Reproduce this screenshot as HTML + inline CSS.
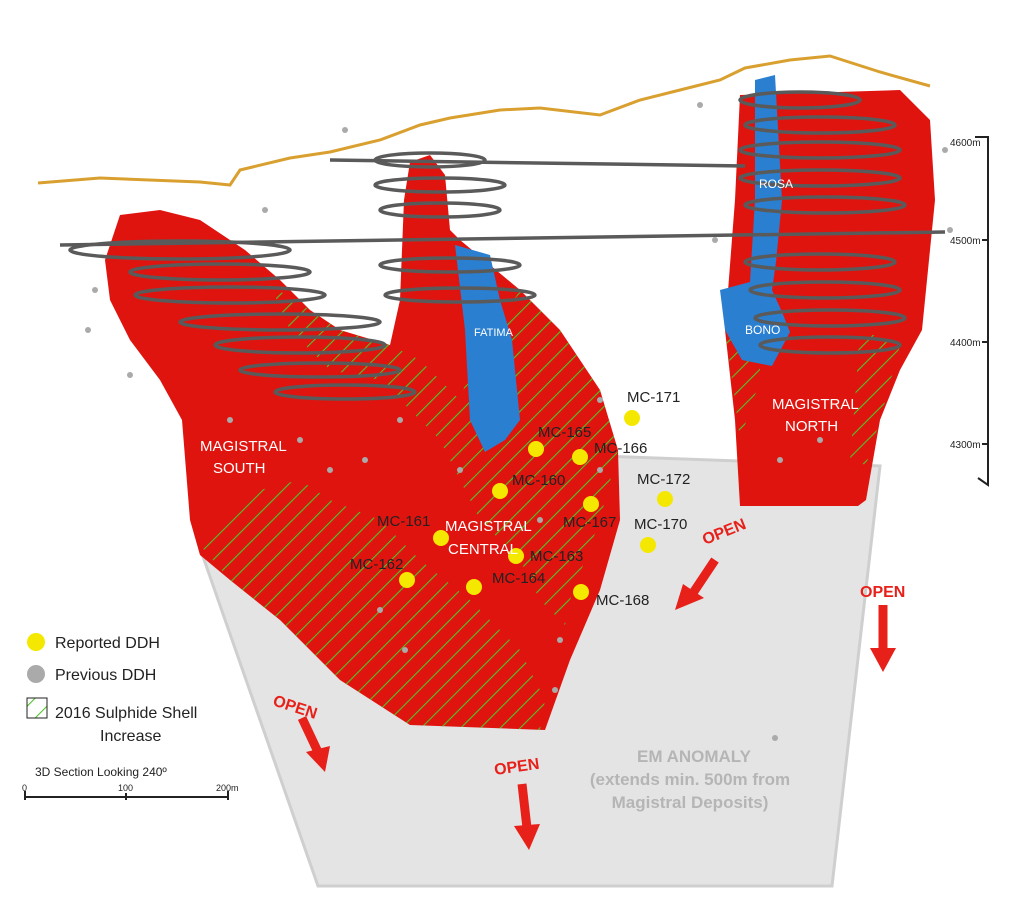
<!DOCTYPE html>
<html><head><meta charset="utf-8">
<style>
html,body{margin:0;padding:0;background:#fff;}
svg{display:block;font-family:"Liberation Sans",sans-serif;}
</style></head>
<body>
<svg width="1024" height="907" viewBox="0 0 1024 907" xmlns="http://www.w3.org/2000/svg">
<defs>
<pattern id="hatch" patternUnits="userSpaceOnUse" width="14" height="14" patternTransform="rotate(45)">
<line x1="0" y1="0" x2="0" y2="14" stroke="#4fc42a" stroke-width="2.2"/>
</pattern>
</defs>
<rect width="1024" height="907" fill="#fff"/>
<polygon points="200,548 600,456 880,466 832,886 318,886" fill="#e4e4e4" stroke="#cfcfcf" stroke-width="3"/>
<polyline points="38,183 100,178 200,182 230,185 240,170 290,158 330,152 380,140 420,125 450,118 500,110 540,108 600,115 640,100 680,90 720,80 745,68 790,60 830,56 880,72 930,86" fill="none" stroke="#d9a030" stroke-width="3"/>
<polygon points="120,215 160,210 200,220 245,250 280,280 310,310 340,330 390,345 400,300 404,200 410,162 430,155 445,175 450,230 460,240 520,290 560,330 600,390 618,450 620,520 600,590 570,660 545,730 410,725 340,680 280,620 230,580 200,555 190,520 182,420 160,380 130,340 110,300 105,260" fill="#e0140f"/>
<polygon points="740,95 900,90 930,120 935,200 922,330 900,370 880,420 866,500 858,506 740,506 735,420 725,330 735,200" fill="#e0140f"/>
<g fill="url(#hatch)">
<polygon points="270,285 310,310 340,330 390,345 420,360 460,400 470,370 520,290 560,330 600,390 618,450 600,520 570,600 565,625 540,600 520,560 480,520 440,440 380,380 330,370 290,330"/>
<polygon points="200,545 230,510 260,490 300,480 330,500 380,520 420,560 470,600 520,650 545,700 540,730 410,725 340,680 280,620 230,580"/>
<polygon points="730,300 760,330 760,380 740,440 735,400 725,330"/>
<polygon points="860,330 900,345 880,420 866,465 850,460 855,400"/>
</g>
<polygon points="455,245 490,255 500,300 512,340 520,420 505,440 485,452 470,420 465,330" fill="#2a7fd0"/>
<polygon points="755,80 775,75 782,200 776,262 772,290 782,312 790,332 772,366 742,360 725,330 720,290 750,282 755,200" fill="#2a7fd0"/>
<g fill="none" stroke="#5a5a5a" stroke-width="3.5">
<line x1="330" y1="160" x2="745" y2="166"/>
<line x1="60" y1="245" x2="945" y2="232"/>
<ellipse cx="180" cy="250" rx="110" ry="9"/>
<ellipse cx="220" cy="272" rx="90" ry="8"/>
<ellipse cx="230" cy="295" rx="95" ry="8"/>
<ellipse cx="280" cy="322" rx="100" ry="8"/>
<ellipse cx="300" cy="345" rx="85" ry="8"/>
<ellipse cx="320" cy="370" rx="80" ry="7"/>
<ellipse cx="345" cy="392" rx="70" ry="7"/>
<ellipse cx="430" cy="160" rx="55" ry="7"/>
<ellipse cx="440" cy="185" rx="65" ry="7"/>
<ellipse cx="440" cy="210" rx="60" ry="7"/>
<ellipse cx="450" cy="265" rx="70" ry="7"/>
<ellipse cx="460" cy="295" rx="75" ry="7"/>
<ellipse cx="800" cy="100" rx="60" ry="8"/>
<ellipse cx="820" cy="125" rx="75" ry="8"/>
<ellipse cx="820" cy="150" rx="80" ry="8"/>
<ellipse cx="820" cy="178" rx="80" ry="8"/>
<ellipse cx="825" cy="205" rx="80" ry="8"/>
<ellipse cx="820" cy="262" rx="75" ry="8"/>
<ellipse cx="825" cy="290" rx="75" ry="8"/>
<ellipse cx="830" cy="318" rx="75" ry="8"/>
<ellipse cx="830" cy="345" rx="70" ry="8"/>
</g>
<g fill="#aaa">
<circle cx="95" cy="290" r="3"/><circle cx="130" cy="375" r="3"/><circle cx="88" cy="330" r="3"/><circle cx="265" cy="210" r="3"/><circle cx="230" cy="420" r="3"/><circle cx="300" cy="440" r="3"/><circle cx="330" cy="470" r="3"/><circle cx="380" cy="610" r="3"/><circle cx="405" cy="650" r="3"/><circle cx="555" cy="690" r="3"/><circle cx="560" cy="640" r="3"/><circle cx="775" cy="738" r="3"/><circle cx="715" cy="240" r="3"/><circle cx="950" cy="230" r="3"/><circle cx="945" cy="150" r="3"/><circle cx="365" cy="460" r="3"/><circle cx="460" cy="470" r="3"/><circle cx="400" cy="420" r="3"/><circle cx="600" cy="400" r="3"/><circle cx="780" cy="460" r="3"/><circle cx="820" cy="440" r="3"/><circle cx="345" cy="130" r="3"/><circle cx="700" cy="105" r="3"/><circle cx="600" cy="470" r="3"/><circle cx="540" cy="520" r="3"/>
</g>
<g fill="#f5e800">
<circle cx="632" cy="418" r="8"/><circle cx="536" cy="449" r="8"/><circle cx="580" cy="457" r="8"/><circle cx="500" cy="491" r="8"/><circle cx="665" cy="499" r="8"/><circle cx="591" cy="504" r="8"/><circle cx="648" cy="545" r="8"/><circle cx="441" cy="538" r="8"/><circle cx="516" cy="556" r="8"/><circle cx="407" cy="580" r="8"/><circle cx="474" cy="587" r="8"/><circle cx="581" cy="592" r="8"/>
</g>
<g font-size="15" fill="#222">
<text x="627" y="402">MC-171</text><text x="538" y="437">MC-165</text><text x="594" y="453">MC-166</text><text x="512" y="485">MC-160</text><text x="637" y="484">MC-172</text><text x="563" y="527">MC-167</text><text x="634" y="529">MC-170</text><text x="377" y="526">MC-161</text><text x="530" y="561">MC-163</text><text x="350" y="569">MC-162</text><text x="492" y="583">MC-164</text><text x="596" y="605">MC-168</text>
</g>
<g fill="#fff" font-size="15">
<text x="200" y="451">MAGISTRAL</text><text x="213" y="473">SOUTH</text>
<text x="445" y="531">MAGISTRAL</text><text x="448" y="554">CENTRAL</text>
<text x="772" y="409">MAGISTRAL</text><text x="785" y="431">NORTH</text>
<text x="474" y="336" font-size="11">FATIMA</text><text x="759" y="188" font-size="12">ROSA</text><text x="745" y="334" font-size="12">BONO</text>
</g>
<g fill="#e8201a" font-weight="bold" font-size="16">
<text x="705" y="545" transform="rotate(-22 705 545)">OPEN</text>
<text x="860" y="597">OPEN</text>
<text x="272" y="705" transform="rotate(18 272 705)">OPEN</text>
<text x="495" y="775" transform="rotate(-8 495 775)">OPEN</text>
</g>
<g stroke="#e8201a" stroke-width="9" fill="none">
<line x1="715" y1="560" x2="693" y2="593"/><line x1="883" y1="605" x2="883" y2="650"/><line x1="302" y1="718" x2="318" y2="752"/><line x1="522" y1="784" x2="527" y2="828"/>
</g>
<g fill="#e8201a">
<polygon points="675,610 683,584 704,598"/><polygon points="870,648 896,648 883,672"/><polygon points="306,752 330,746 325,772"/><polygon points="514,826 540,824 529,850"/>
</g>
<g fill="#b5b5b5" font-weight="bold" font-size="17" text-anchor="middle">
<text x="694" y="762">EM ANOMALY</text><text x="690" y="785">(extends min. 500m from</text><text x="690" y="808">Magistral Deposits)</text>
</g>
<g stroke="#222" stroke-width="2" fill="none">
<polyline points="975,137 988,137 988,485 978,478"/>
<line x1="982" y1="240" x2="988" y2="240"/><line x1="982" y1="342" x2="988" y2="342"/><line x1="982" y1="444" x2="988" y2="444"/>
</g>
<g font-size="10" fill="#222">
<text x="950" y="146">4600m</text><text x="950" y="244">4500m</text><text x="950" y="346">4400m</text><text x="950" y="448">4300m</text>
</g>
<circle cx="36" cy="642" r="9" fill="#f5e800"/>
<circle cx="36" cy="674" r="9" fill="#aaa"/>
<rect x="27" y="698" width="20" height="20" fill="url(#hatch)" stroke="#222" stroke-width="1"/>
<g font-size="16" fill="#222">
<text x="55" y="648">Reported DDH</text><text x="55" y="680">Previous DDH</text><text x="55" y="718">2016 Sulphide Shell</text><text x="100" y="741">Increase</text>
</g>
<text x="35" y="776" font-size="12" fill="#222">3D Section Looking 240º</text>
<g stroke="#222" stroke-width="2"><line x1="25" y1="797" x2="228" y2="797"/><line x1="25" y1="791" x2="25" y2="800"/><line x1="126" y1="793" x2="126" y2="800"/><line x1="228" y1="791" x2="228" y2="800"/></g>
<g font-size="9" fill="#222"><text x="22" y="791">0</text><text x="118" y="791">100</text><text x="216" y="791">200m</text></g>
</svg>
</body></html>
